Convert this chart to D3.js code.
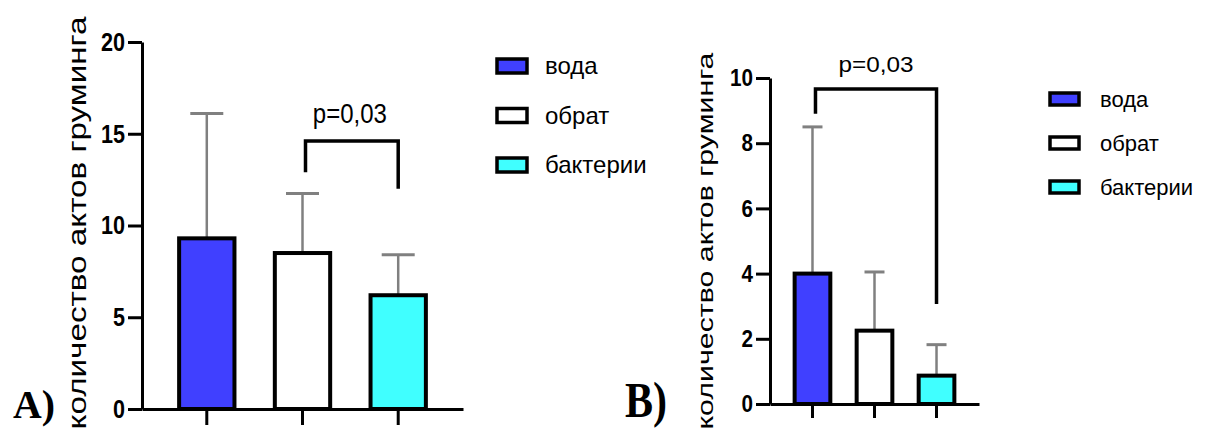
<!DOCTYPE html>
<html lang="ru">
<head>
  <meta charset="UTF-8">
  <title>Количество актов груминга</title>
  <script src="https://d3js.org/d3.v7.min.js"></script>
  <style>
    html, body {
      margin: 0;
      padding: 0;
      background: #fff;
    }
    svg {
      display: block;
      font-family: "Liberation Sans", Arial, sans-serif;
    }
    .panel-letter {
      font-family: "Liberation Serif", "Times New Roman", serif;
      font-weight: bold;
    }
  </style>
</head>
<body>
<svg id="chart" width="1209" height="433"></svg>
<script>
  // data
  const groups = ["вода", "обрат", "бактерии"];
  const groupColors = ["#4040ff", "#ffffff", "#40ffff"];
  const yLabel = "количество актов груминга";

  const meansA = [9.3, 8.5, 6.2];
  const sdA = [6.8, 3.25, 2.2];
  const ticksA = [0, 5, 10, 15, 20];
  // bracket: [from group, to group, bar level, left end, right end]
  const bracketA = [1, 2, 14.6, 12.9, 12.0];

  const meansB = [4.0, 2.25, 0.87];
  const sdB = [4.5, 1.8, 0.95];
  const ticksB = [0, 2, 4, 6, 8, 10];
  const bracketB = [0, 2, 9.66, 8.9, 3.07];

  const pLabel = "p=0,03";

  const svg = d3.select("#chart");

  function drawPanel(o) {
    const g = svg.append("g");

    const x = d3.scaleBand().domain(groups)
      .range([o.left, o.right])
      .paddingInner(o.padIn).paddingOuter(o.padOut);
    const y = d3.scaleLinear().domain([0, o.max]).range([o.bottom, o.top]);

    // error bars (upper half only)
    const err = g.append("g");
    groups.forEach((grp, i) => {
      const cx = x(grp) + x.bandwidth() / 2;
      const top = y(o.means[i] + o.sd[i]);
      err.append("line")
        .attr("x1", cx).attr("x2", cx)
        .attr("y1", y(o.means[i])).attr("y2", top)
        .attr("stroke", "#808080").attr("stroke-width", 2.5);
      err.append("line")
        .attr("x1", cx - o.cap / 2).attr("x2", cx + o.cap / 2)
        .attr("y1", top).attr("y2", top)
        .attr("stroke", "#808080").attr("stroke-width", 3);
    });

    g.selectAll("rect.bar").data(groups).join("rect")
      .attr("class", "bar")
      .attr("x", d => x(d) + 2)
      .attr("width", x.bandwidth() - 4)
      .attr("y", (d, i) => y(o.means[i]))
      .attr("height", (d, i) => y(0) - y(o.means[i]))
      .attr("fill", (d, i) => groupColors[i])
      .attr("stroke", "#000").attr("stroke-width", 4);

    // axes
    const yAxis = g.append("g")
      .attr("transform", `translate(${o.left},0)`)
      .call(d3.axisLeft(y).tickValues(o.ticks).tickSize(14).tickSizeOuter(0).tickPadding(3));
    yAxis.select(".domain").attr("stroke-width", 3);
    yAxis.selectAll(".tick line").attr("stroke-width", 3);
    yAxis.selectAll(".tick text")
      .attr("font-size", o.tickFont).attr("font-weight", "bold")
      .attr("fill", "#000")
      .attr("textLength", d => String(d).length * o.digitW)
      .attr("lengthAdjust", "spacingAndGlyphs");

    const xAxis = g.append("g")
      .attr("transform", `translate(0,${o.bottom})`)
      .call(d3.axisBottom(x).tickSize(o.xTick).tickSizeOuter(0).tickFormat(""));
    xAxis.select(".domain").attr("stroke-width", 3);
    xAxis.selectAll(".tick line").attr("stroke-width", 3);

    // y label
    g.append("text")
      .attr("transform", `translate(${o.labelX},${o.labelY}) rotate(-90)`)
      .attr("text-anchor", "middle")
      .attr("font-size", o.labelFont)
      .attr("textLength", o.labelLen)
      .attr("lengthAdjust", "spacingAndGlyphs")
      .text(yLabel);

    // significance bracket
    const [bi, bj, lvl, le, re] = o.bracket;
    const bx1 = x(groups[bi]) + x.bandwidth() / 2 + 3;
    const bx2 = x(groups[bj]) + x.bandwidth() / 2;
    g.append("path")
      .attr("d", `M${bx1},${y(le)}V${y(lvl)}H${bx2}V${y(re)}`)
      .attr("fill", "none").attr("stroke", "#000").attr("stroke-width", 3.5);
    g.append("text")
      .attr("x", (bx1 + bx2) / 2 + o.pShift).attr("y", o.pBase)
      .attr("text-anchor", "middle")
      .attr("font-size", o.pFont)
      .attr("textLength", o.pLen)
      .attr("lengthAdjust", "spacingAndGlyphs")
      .text(pLabel);

    // panel letter
    g.append("text")
      .attr("class", "panel-letter")
      .attr("transform", `translate(${o.letterX},${o.letterY}) scale(1,${o.letterSy})`)
      .attr("font-size", o.letterFont)
      .attr("textLength", 42)
      .attr("lengthAdjust", "spacingAndGlyphs")
      .text(o.letter);

    // legend
    const leg = g.append("g");
    groups.forEach((grp, i) => {
      const cy = o.legY + i * o.legStep;
      leg.append("rect")
        .attr("x", o.legX).attr("y", cy - o.swH / 2)
        .attr("width", o.swW).attr("height", o.swH)
        .attr("fill", groupColors[i])
        .attr("stroke", "#000").attr("stroke-width", 3.5);
      leg.append("text")
        .attr("x", o.legTextX).attr("y", cy)
        .attr("dy", "0.35em")
        .attr("font-size", o.legFont)
        .text(grp);
    });
  }

  drawPanel({
    means: meansA, sd: sdA, ticks: ticksA, max: 20, bracket: bracketA,
    left: 142, right: 463, top: 42, bottom: 409,
    padIn: 0.38, padOut: 0.367, cap: 33, xTick: 16,
    tickFont: 26, digitW: 12,
    labelX: 86, labelY: 223, labelFont: 25, labelLen: 413,
    pBase: 123, pFont: 28, pLen: 74, pShift: -2,
    letter: "A)", letterX: 13, letterY: 418, letterFont: 39, letterSy: 1.05,
    legX: 497, legY: 66, legStep: 49.5, swW: 30, swH: 14,
    legTextX: 545, legFont: 24
  });

  drawPanel({
    means: meansB, sd: sdB, ticks: ticksB, max: 10, bracket: bracketB,
    left: 770, right: 979, top: 78, bottom: 404,
    padIn: 0.36, padOut: 0.365, cap: 20, xTick: 14,
    tickFont: 24, digitW: 11.5,
    labelX: 713, labelY: 241, labelFont: 22, labelLen: 377,
    pBase: 72, pFont: 22, pLen: 75, pShift: 0,
    letter: "B)", letterX: 625, letterY: 417, letterFont: 42, letterSy: 1.2,
    legX: 1050, legY: 99, legStep: 44, swW: 29, swH: 12,
    legTextX: 1100, legFont: 22
  });
</script>
</body>
</html>
